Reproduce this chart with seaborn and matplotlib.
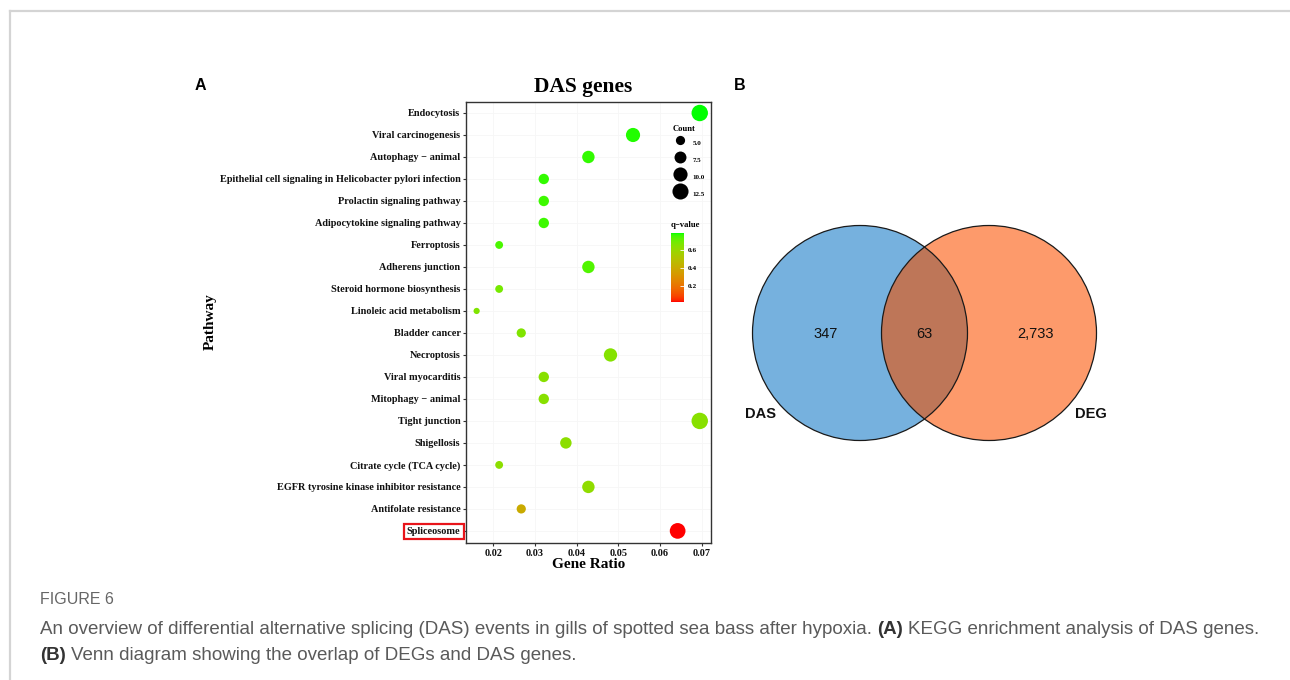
import numpy as np
import pandas as pd
import matplotlib
matplotlib.use("Agg")
import matplotlib.pyplot as plt
import seaborn as sns
from matplotlib.colors import ListedColormap, Normalize
from matplotlib.cm import ScalarMappable
from matplotlib.lines import Line2D
from matplotlib.patches import Circle

# ---------------- data ----------------
pathways = [
    "Endocytosis",
    "Viral carcinogenesis",
    "Autophagy \u2212 animal",
    "Epithelial cell signaling in Helicobacter pylori infection",
    "Prolactin signaling pathway",
    "Adipocytokine signaling pathway",
    "Ferroptosis",
    "Adherens junction",
    "Steroid hormone biosynthesis",
    "Linoleic acid metabolism",
    "Bladder cancer",
    "Necroptosis",
    "Viral myocarditis",
    "Mitophagy \u2212 animal",
    "Tight junction",
    "Shigellosis",
    "Citrate cycle (TCA cycle)",
    "EGFR tyrosine kinase inhibitor resistance",
    "Antifolate resistance",
    "Spliceosome",
]
gene_ratio = [0.0695, 0.0535, 0.0428, 0.0321, 0.0321, 0.0321, 0.0214, 0.0428, 0.0214, 0.0160,
              0.0267, 0.0481, 0.0321, 0.0321, 0.0695, 0.0374, 0.0214, 0.0428, 0.0267, 0.0642]
counts = [13, 10, 8, 6, 6, 6, 4, 8, 4, 3, 5, 9, 6, 6, 13, 7, 4, 8, 5, 12]
q_values = [0.79, 0.78, 0.77, 0.77, 0.76, 0.76, 0.75, 0.74, 0.68, 0.66,
            0.66, 0.65, 0.64, 0.64, 0.64, 0.63, 0.63, 0.62, 0.40, 0.02]
x_ticks = [0.02, 0.03, 0.04, 0.05, 0.06, 0.07]
count_legend = [5.0, 7.5, 10.0, 12.5]
q_ticks = [0.2, 0.4, 0.6]

venn_sets = ["DAS", "DEG"]
venn_only_das = 347
venn_overlap = 63
venn_only_deg = 2733

caption_head = "FIGURE 6"
caption_line1 = [("An overview of differential alternative splicing (DAS) events in gills of spotted sea bass after hypoxia.", "normal"),
                 ("(A)", "bold"),
                 ("KEGG enrichment analysis of DAS genes.", "normal")]
caption_line2 = [("(B)", "bold"),
                 ("Venn diagram showing the overlap of DEGs and DAS genes.", "normal")]

# ---------------- style ----------------
W, H = 1290, 680
SERIF = ["Liberation Serif", "DejaVu Serif"]
SANS = ["Liberation Sans", "DejaVu Sans"]
CAPF = ["Liberation Sans", "DejaVu Sans"]
plt.rcParams["font.family"] = SERIF
plt.rcParams["axes.unicode_minus"] = True


def fx(px):
    return px / W


def fy(py):
    return 1 - py / H


# ggplot-like red->green gradient interpolated in Lab space
_M = np.array([[0.4124, 0.3576, 0.1805], [0.2126, 0.7152, 0.0722], [0.0193, 0.1192, 0.9505]])
_WP = np.array([0.95047, 1.0, 1.08883])


def _lin(c):
    c = np.asarray(c, float)
    return np.where(c <= 0.04045, c / 12.92, ((c + 0.055) / 1.055) ** 2.4)


def _gam(c):
    c = np.clip(c, 0, 1)
    return np.where(c <= 0.0031308, 12.92 * c, 1.055 * c ** (1 / 2.4) - 0.055)


def to_lab(rgb):
    xyz = _M @ _lin(rgb) / _WP
    f = np.where(xyz > 0.008856, np.cbrt(xyz), 7.787 * xyz + 16 / 116)
    return np.array([116 * f[1] - 16, 500 * (f[0] - f[1]), 200 * (f[1] - f[2])])


def from_lab(lab):
    fyy = (lab[..., 0] + 16) / 116
    fxx = fyy + lab[..., 1] / 500
    fzz = fyy - lab[..., 2] / 200
    f = np.stack([fxx, fyy, fzz], -1)
    xyz = np.where(f > 0.2069, f ** 3, (f - 16 / 116) / 7.787) * _WP
    rgb = xyz @ np.linalg.inv(_M).T
    return np.clip(_gam(rgb), 0, 1)


_t = np.linspace(0, 1, 256)[:, None]
_lab = to_lab([1, 0, 0]) * (1 - _t) + to_lab([0, 1, 0]) * _t
cmap = ListedColormap(from_lab(_lab))
qnorm = Normalize(min(q_values), max(q_values))

SIZE_RANGE = (20, 140)
SIZE_NORM = (3, 13)


def size_of(c):
    return SIZE_RANGE[0] + (SIZE_RANGE[1] - SIZE_RANGE[0]) * (c - SIZE_NORM[0]) / (SIZE_NORM[1] - SIZE_NORM[0])


df = pd.DataFrame({"Pathway": pathways, "GeneRatio": gene_ratio, "Count": counts, "qvalue": q_values})

fig = plt.figure(figsize=(W / 100, H / 100), dpi=100)
fig.patch.set_facecolor("white")

# frame lines
fig.add_artist(Line2D([fx(10), 1], [fy(11), fy(11)], transform=fig.transFigure, color="#D4D4D4", lw=1.6))
fig.add_artist(Line2D([fx(10), fx(10)], [fy(11), 0], transform=fig.transFigure, color="#D4D4D4", lw=1.6))

# ---------------- Panel A ----------------
ax = fig.add_axes([fx(466), fy(543), 245 / W, 441 / H])
sns.scatterplot(data=df, x="GeneRatio", y="Pathway", hue="qvalue", size="Count",
                palette=cmap, hue_norm=qnorm, sizes=SIZE_RANGE, size_norm=SIZE_NORM,
                legend=False, edgecolor="none", linewidth=0, ax=ax, zorder=3)
ax.set_xlim(0.01345, 0.0722)
ax.set_ylim(len(pathways) - 1 + 0.55, -0.5)
ax.set_xticks(x_ticks)
ax.set_xticklabels([f"{v:.2f}" for v in x_ticks])
ax.set_xlabel("")
ax.set_ylabel("")
ax.grid(True, color="#F6F6F6", lw=0.6)
ax.set_axisbelow(True)
for sp in ax.spines.values():
    sp.set_color("#333333")
    sp.set_linewidth(1.0)
ax.tick_params(axis="both", length=2.5, width=0.8, color="#333333", pad=1.5, labelsize=7.35, labelcolor="#111111")
for lab in ax.get_xticklabels() + ax.get_yticklabels():
    lab.set_fontweight("bold")
ylabs = ax.get_yticklabels()
ylabs[-1].set_bbox(dict(boxstyle="square,pad=0.3", fc="none", ec="#E8141A", lw=1.6))

fig.text(fx(583), fy(87), "DAS genes", ha="center", va="center", fontsize=15.5, fontweight="bold")
fig.text(fx(589), fy(565), "Gene Ratio", ha="center", va="center", fontsize=11, fontweight="bold")
fig.text(fx(210), fy(322), "Pathway", ha="center", va="center", rotation=90, fontsize=11, fontweight="bold")
fig.text(fx(200), fy(86), "A", ha="center", va="center", fontsize=11.5, fontweight="bold", family=SANS)
fig.text(fx(740), fy(86), "B", ha="center", va="center", fontsize=11.5, fontweight="bold", family=SANS)

# count legend
handles = [Line2D([], [], marker="o", linestyle="", color="black", markeredgewidth=0,
                  markersize=np.sqrt(size_of(v))) for v in count_legend]
leg = ax.legend(handles, [f"{v:.1f}" for v in count_legend], title="Count", loc="upper left",
                bbox_to_anchor=(fx(669), fy(122)), bbox_transform=fig.transFigure,
                frameon=False, prop=dict(family=SERIF, weight="bold", size=5),
                title_fontproperties=dict(family=SERIF, weight="bold", size=6.2),
                handletextpad=0.7, labelspacing=0.2, borderpad=0, handlelength=2.2,
                handleheight=3.1, alignment="left")

# q-value colourbar
cax = fig.add_axes([fx(671), fy(302), 13 / W, 69 / H])
cb = fig.colorbar(ScalarMappable(norm=qnorm, cmap=cmap), cax=cax)
cb.outline.set_visible(False)
cb.set_ticks(q_ticks)
cb.set_ticklabels([f"{v:.1f}" for v in q_ticks])
cax.tick_params(direction="in", color="white", length=3, width=0.6, pad=3, labelsize=5.2)
for lab in cax.get_yticklabels():
    lab.set_fontweight("bold")
cax.set_title("q\u2212value", fontsize=6.2, fontweight="bold", loc="left", pad=4)

# ---------------- Panel B : Venn ----------------
R_PX = 107.5
vax = fig.add_axes([fx(860 - 1.05 * R_PX), fy(333 + 1.05 * R_PX), 3.3 * R_PX / W, 2.1 * R_PX / H])
vax.set_xlim(-1.05, 2.25)
vax.set_ylim(-1.05, 1.05)
vax.axis("off")
c_left = Circle((0, 0), 1, fc="#76B1DE", ec="none")
c_right = Circle((1.2, 0), 1, fc="#FD9A6B", ec="none")
vax.add_patch(c_left)
vax.add_patch(c_right)
c_mid = Circle((0, 0), 1, fc="#BE7658", ec="none")
vax.add_patch(c_mid)
c_mid.set_clip_path(c_right)
vax.add_patch(Circle((0, 0), 1, fill=False, ec="#1A1A1A", lw=0.9))
vax.add_patch(Circle((1.2, 0), 1, fill=False, ec="#1A1A1A", lw=0.9))
vax.text(-0.316, -0.01, f"{venn_only_das:,}", ha="center", va="center", fontsize=10.5, family=SANS, color="#111111")
vax.text(0.6, -0.01, f"{venn_overlap:,}", ha="center", va="center", fontsize=10.5, family=SANS, color="#111111")
vax.text(1.63, -0.01, f"{venn_only_deg:,}", ha="center", va="center", fontsize=10.5, family=SANS, color="#111111")
vax.text(-0.93, -0.753, venn_sets[0], ha="center", va="center", fontsize=10.5, fontweight="bold", family=SANS, color="#111111")
vax.text(2.15, -0.753, venn_sets[1], ha="center", va="center", fontsize=10.5, fontweight="bold", family=SANS, color="#111111")

# ---------------- caption ----------------
renderer = fig.canvas.get_renderer()


def text_w(s, weight, size):
    t = fig.text(0, 0, s, fontsize=size, fontweight=weight, family=CAPF)
    w = t.get_window_extent(renderer).width
    t.remove()
    return w


base = 10.0
sp_w = text_w("a a", "normal", base) - text_w("aa", "normal", base)
tot = sum(text_w(s, w, base) for s, w in caption_line1) + sp_w * (len(caption_line1) - 1)
cap_size = base * 1228 / tot
sp_w *= cap_size / base


def draw_line(pieces, y):
    x = 40.0
    for s, w in pieces:
        col = "#333333" if w == "bold" else "#5A5A5A"
        t = fig.text(fx(x), fy(y), s, fontsize=cap_size, fontweight=w, family=CAPF, color=col, va="center", ha="left")
        x += t.get_window_extent(renderer).width + sp_w


fig.text(fx(40), fy(600), caption_head, fontsize=cap_size * 0.85, family=CAPF, color="#666666", va="center", ha="left")
draw_line(caption_line1, 630)
draw_line(caption_line2, 655)

fig.savefig("out.png", dpi=100)
